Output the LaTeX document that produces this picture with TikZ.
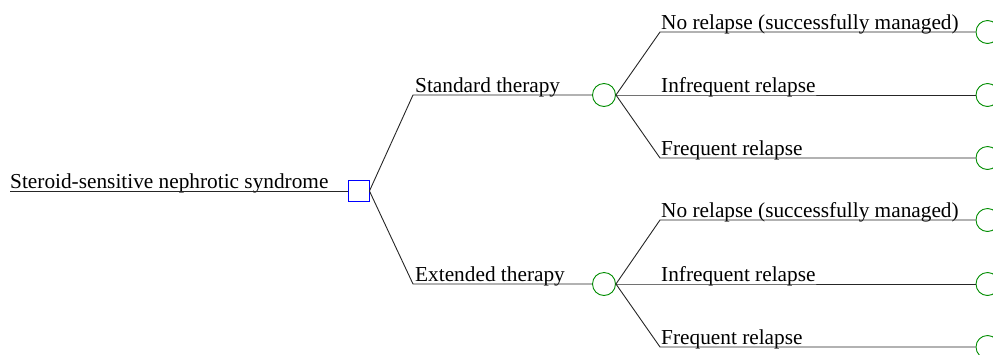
\documentclass[tikz,border=0pt]{standalone}
\usepackage{fontspec}
\setmainfont{Liberation Serif}
\begin{document}
\begin{tikzpicture}[x=1pt,y=-1pt,
  edge/.style={draw=black!85,line width=0.9pt},
  lbl/.style={anchor=base west,inner sep=0pt,font=\fontsize{21.3}{24}\selectfont},
  decbox/.style={draw=blue,line width=0.9pt,minimum size=21pt,inner sep=0pt},
  chance/.style={draw=green!55!black,line width=0.9pt,circle,minimum size=23pt,inner sep=0pt},
  term/.style={draw=green!55!black,line width=0.9pt,circle,minimum size=23pt,inner sep=0pt}]
\useasboundingbox (0,0) rectangle (993,354);
\clip (0,0) rectangle (993,354);
% root
\coordinate (r0) at (10,191);
\node[lbl] (rt) at (10,188) {Steroid-sensitive nephrotic syndrome};
\node[decbox] (dec) at (358.5,191) {};
\draw[edge] (r0) -- (dec.west);
% therapy branches
\coordinate (s0) at (413,95);
\coordinate (e0) at (413,284);
\node[lbl] (st) at (415,92) {Standard therapy};
\node[lbl] (et) at (415,281) {Extended therapy};
\node[chance] (cs) at (604,95) {};
\node[chance] (ce) at (604,284) {};
\draw[edge] (dec.east) -- (s0) -- (cs.west);
\draw[edge] (dec.east) -- (e0) -- (ce.west);
% outcomes
\foreach \c/\n/\ya/\yb/\yc in {cs/s/32/95/158, ce/e/220/284/347}{
  \coordinate (\n1) at (660,\ya);
  \coordinate (\n2) at (660,\yb);
  \coordinate (\n3) at (660,\yc);
  \node[term] (\n t1) at (987.5,\ya) {};
  \node[term] (\n t2) at (987.5,\yb) {};
  \node[term] (\n t3) at (987.5,\yc) {};
  \node[lbl] at (661,\ya-3) {No relapse (successfully managed)};
  \node[lbl] at (661,\yb-3) {Infrequent relapse};
  \node[lbl] at (661,\yc-3) {Frequent relapse};
  \draw[edge] (\c.east) -- (\n1) -- (\n t1.west);
  \draw[edge] (\c.east) -- (\n2) -- (\n t2.west);
  \draw[edge] (\c.east) -- (\n3) -- (\n t3.west);
}
\end{tikzpicture}
\end{document}
